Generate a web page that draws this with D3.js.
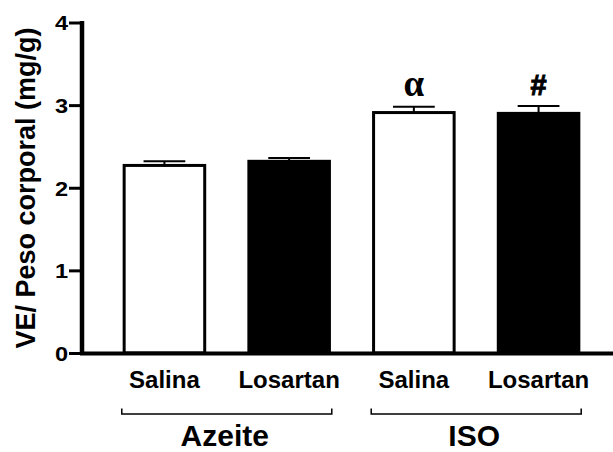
<!DOCTYPE html>
<html>
<head>
<meta charset="utf-8">
<script src="https://cdnjs.cloudflare.com/ajax/libs/d3/7.8.5/d3.min.js"></script>
<style>
  body { margin: 0; background: #fff; }
  text { font-family: Arial, "Liberation Sans", sans-serif; font-weight: bold; fill: #000; }
</style>
</head>
<body>
<div id="chart"></div>
<script>
// data
var groups = ["Salina", "Losartan", "Salina", "Losartan"];
var barKeys = ["az_sal", "az_los", "iso_sal", "iso_los"];
var means = [2.27, 2.32, 2.91, 2.90];
var sems = [0.05, 0.04, 0.07, 0.09];
var fills = ["#fff", "#000", "#fff", "#000"];
var marks = ["", "", "α", "#"];
var yTicks = [0, 1, 2, 3, 4];
var treatGroups = ["Azeite", "ISO"];
var treatMembers = [["az_sal", "az_los"], ["iso_sal", "iso_los"]];

var svgWidth = 613;
var svgHeight = 452;

var svg = d3.select("#chart")
  .append("svg")
  .attr("width", svgWidth)
  .attr("height", svgHeight);

// scales
var x = d3.scaleBand()
  .domain(barKeys)
  .range([81.5, 621.5])
  .padding(0.33);

var y = d3.scaleLinear()
  .domain([0, 4])
  .range([353, 22.5]);

function mid(k) { return x(k) + x.bandwidth() / 2; }

// bars
svg.selectAll("rect.bar")
  .data(barKeys)
  .enter()
  .append("rect")
  .attr("class", "bar")
  .attr("x", d => x(d) + 1.5)
  .attr("width", x.bandwidth() - 3)
  .attr("y", (d, i) => y(means[i]))
  .attr("height", (d, i) => y(0) - y(means[i]))
  .attr("fill", (d, i) => fills[i])
  .attr("stroke", "#000")
  .attr("stroke-width", 3);

// error bars (upper only)
var errG = svg.append("g").attr("stroke", "#000").attr("stroke-width", 2);
barKeys.forEach(function(k, i) {
  var cx = mid(k);
  var capHalf = x.bandwidth() / 4;
  errG.append("line")
    .attr("x1", cx).attr("x2", cx)
    .attr("y1", y(means[i])).attr("y2", y(means[i] + sems[i]));
  errG.append("line")
    .attr("x1", cx - capHalf).attr("x2", cx + capHalf)
    .attr("y1", y(means[i] + sems[i])).attr("y2", y(means[i] + sems[i]));
});

// significance marks
svg.selectAll("text.mark")
  .data(barKeys)
  .enter()
  .append("text")
  .attr("class", "mark")
  .attr("x", d => mid(d))
  .attr("y", (d, i) => y(means[i] + sems[i]) - 11)
  .attr("text-anchor", "middle")
  .attr("stroke", (d, i) => marks[i] === "#" ? "#000" : null)
  .attr("stroke-width", 1)
  .style("font-size", (d, i) => marks[i] === "α" ? "37px" : "29px")
  .style("font-family", (d, i) => marks[i] === "α" ? "'Liberation Serif', 'Times New Roman', serif" : null)
  .style("font-weight", "bold")
  .text((d, i) => marks[i]);

// y axis
var yAxis = d3.axisLeft(y)
  .tickValues(yTicks)
  .tickFormat(d3.format("d"))
  .tickSize(13)
  .tickSizeOuter(0)
  .tickPadding(1);

var yG = svg.append("g")
  .attr("transform", "translate(82,0)")
  .call(yAxis);
yG.select(".domain").attr("stroke-width", 4.5).attr("d", "M0," + (y(4) - 1.5) + "V" + (y(0) + 2));
yG.selectAll(".tick line").attr("stroke-width", 3);
yG.selectAll(".tick text")
  .attr("x", 0)
  .attr("dy", "0.36em")
  .attr("transform", "translate(-14,0) scale(1.15,1)")
  .style("font-size", "20.5px")
  .style("font-family", "Arial, 'Liberation Sans', sans-serif")
  .style("font-weight", "bold");

// x baseline
svg.append("line")
  .attr("x1", 80).attr("x2", svgWidth)
  .attr("y1", y(0) + 0.5).attr("y2", y(0) + 0.5)
  .attr("stroke", "#000")
  .attr("stroke-width", 4);

// category labels
svg.selectAll("text.cat")
  .data(barKeys)
  .enter()
  .append("text")
  .attr("class", "cat")
  .attr("x", d => mid(d))
  .attr("y", 388)
  .attr("text-anchor", "middle")
  .style("font-size", "24px")
  .text((d, i) => groups[i]);

// group brackets
treatGroups.forEach(function(g, i) {
  var c = (mid(treatMembers[i][0]) + mid(treatMembers[i][1])) / 2;
  var half = 105;
  svg.append("path")
    .attr("d", "M" + (c - half) + ",408.5V414H" + (c + half) + "V408.5")
    .attr("fill", "none")
    .attr("stroke", "#000")
    .attr("stroke-width", 1.5);
  svg.append("text")
    .attr("x", c - 2)
    .attr("y", 446)
    .attr("text-anchor", "middle")
    .style("font-size", "30px")
    .text(g);
});

// y label
svg.append("text")
  .attr("transform", "translate(34.5,188) rotate(-90)")
  .attr("text-anchor", "middle")
  .style("font-size", "27px")
  .text("VE/ Peso corporal (mg/g)");
</script>
</body>
</html>
